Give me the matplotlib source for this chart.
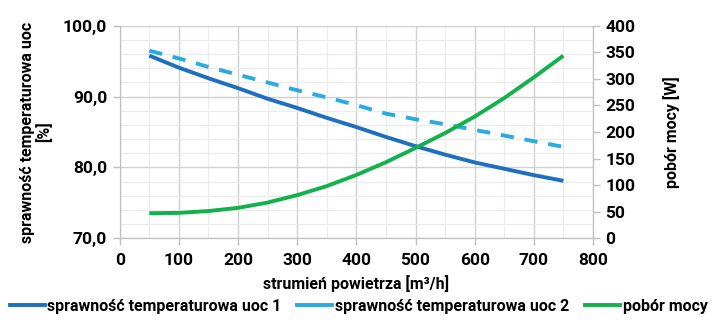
import matplotlib
matplotlib.use("Agg")
import matplotlib.pyplot as plt
from matplotlib.ticker import MultipleLocator, FuncFormatter
from matplotlib.lines import Line2D

plt.rcParams['font.family'] = ['Roboto', 'DejaVu Sans']
W = 'bold'

flow = [50, 100, 150, 200, 250, 300, 350, 400, 450, 500, 550, 600, 650, 700, 750]
uoc1 = [95.8, 94.1, 92.6, 91.2, 89.7, 88.4, 87.0, 85.7, 84.3, 83.0, 81.8, 80.7, 79.8, 78.9, 78.1]
uoc2 = [96.5, 95.4, 94.2, 93.1, 92.0, 90.9, 89.9, 88.8, 87.6, 86.8, 86.1, 85.3, 84.5, 83.7, 82.9]
power = [47, 47.5, 51, 57, 67, 81, 98, 119, 143, 170, 198, 229, 264, 303, 344]

labels = ["sprawność temperaturowa uoc 1", "sprawność temperaturowa uoc 2", "pobór mocy"]
c1, c2, c3 = "#1F6FBF", "#29ABE2", "#14B04C"

fig = plt.figure(figsize=(7.17, 3.2), dpi=100)
ax = fig.add_axes([0.167, 0.256, 0.660, 0.663])
ax2 = ax.twinx()

ax.set_xlim(0, 800)
ax.set_ylim(70, 100)
ax2.set_ylim(0, 400)

ax.xaxis.set_major_locator(MultipleLocator(100))
ax.xaxis.set_minor_locator(MultipleLocator(50))
ax.yaxis.set_major_locator(MultipleLocator(10))
ax.yaxis.set_minor_locator(MultipleLocator(2))
ax2.yaxis.set_major_locator(MultipleLocator(50))

ax.grid(which='major', color='#D0D0D0', lw=1.0)
ax.grid(which='minor', color='#EBEBEB', lw=0.8)
ax.set_axisbelow(True)

ax.yaxis.set_major_formatter(FuncFormatter(lambda v, p: f"{v:.1f}".replace('.', ',')))

LW = 2.8
ax.plot(flow, uoc1, color=c1, lw=LW, solid_capstyle='butt', zorder=3)
ax.plot(flow, uoc2, color=c2, lw=LW, dashes=(3.4, 2.8), zorder=3)
ax2.plot(flow, power, color=c3, lw=LW, solid_capstyle='butt', zorder=3)

for a in (ax, ax2):
    for s in a.spines.values():
        s.set_color('#BFBFBF')
    a.spines['top'].set_visible(False)
    a.tick_params(axis='both', which='major', colors='#BFBFBF', labelcolor='black',
                  labelsize=12.5, length=5, width=1)
    a.tick_params(which='minor', length=0)
    for t in a.get_xticklabels() + a.get_yticklabels():
        t.set_fontweight(W)
ax.tick_params(axis='x', pad=6)
ax.tick_params(axis='y', pad=4)
ax2.tick_params(axis='y', pad=4)

ax.set_xlabel("strumień powietrza [m³/h]", fontsize=11.5, fontweight=W, labelpad=5)
ax.set_ylabel("sprawność temperaturowa uoc\n[%]", fontsize=11.5, fontweight=W,
              linespacing=1.0, labelpad=8)
ax2.set_ylabel("pobór mocy [W]", fontsize=11.5, fontweight=W, labelpad=20)

handles = [Line2D([], [], color=c1, lw=LW),
           Line2D([], [], color=c2, lw=LW),
           Line2D([], [], color=c3, lw=LW)]
fig.legend(handles, labels, loc='lower center', bbox_to_anchor=(0.5, -0.025), ncol=3,
           frameon=False, handlelength=2.2, handletextpad=0.15,
           columnspacing=1.0, prop={'weight': W, 'size': 11.5})

fig.savefig("out.png", dpi=100)
